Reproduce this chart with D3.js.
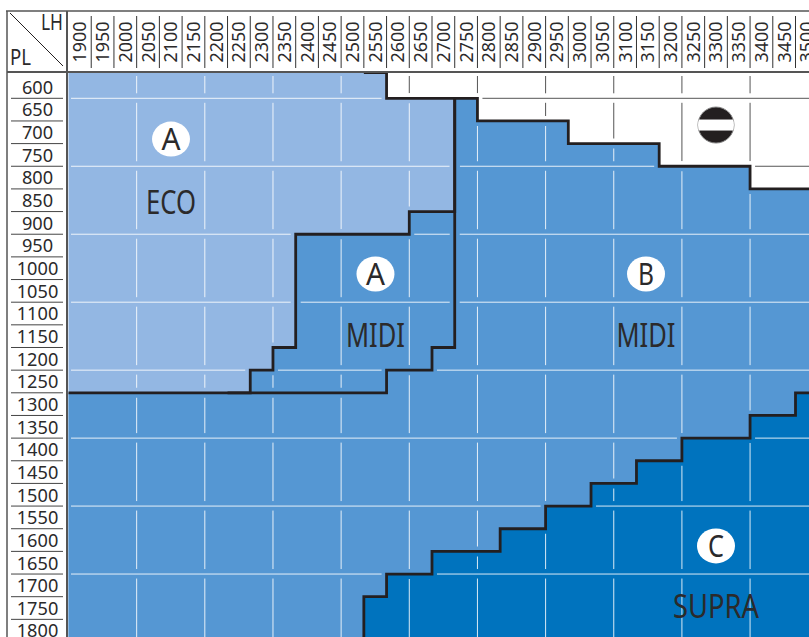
<!DOCTYPE html>
<html>
<head>
<meta charset="utf-8">
<script src="https://cdn.jsdelivr.net/npm/d3@7"></script>
<style>
  html, body { margin: 0; padding: 0; background: #fff; overflow: hidden; }
  svg { display: block; }
  text { fill: #2b2a2b; font-family: "Noto Sans", "Open Sans", sans-serif; }
</style>
</head>
<body>
<svg id="chart" width="809" height="637"></svg>
<script>
// LH across the top, PL down the side
const lhValues = [1900, 1950, 2000, 2050, 2100, 2150, 2200, 2250, 2300, 2350, 2400,
  2450, 2500, 2550, 2600, 2650, 2700, 2750, 2800, 2850, 2900, 2950, 3000, 3050,
  3100, 3150, 3200, 3250, 3300, 3350, 3400, 3450, 3500];
const plValues = [600, 650, 700, 750, 800, 850, 900, 950, 1000, 1050, 1100, 1150, 1200,
  1250, 1300, 1350, 1400, 1450, 1500, 1550, 1600, 1650, 1700, 1750, 1800];

// first PL row of each zone, one value per LH column
const availableFrom = [600, 600, 600, 600, 600, 600, 600, 600, 600, 600, 600,
  600, 600, 600, 650, 650, 650, 650, 700, 700, 700, 700, 750, 750,
  750, 750, 800, 800, 800, 800, 850, 850, 850];
const midiAFrom = [1300, 1300, 1300, 1300, 1300, 1300, 1300, 1300, 1250, 1200, 950,
  950, 950, 950, 950, 900, 900, 650, 700, 700, 700, 700, 750, 750,
  750, 750, 800, 800, 800, 800, 850, 850, 850];
const midiBFrom = [1300, 1300, 1300, 1300, 1300, 1300, 1300, 1300, 1300, 1300, 1300,
  1300, 1300, 1300, 1250, 1250, 1200, 650, 700, 700, 700, 700, 750, 750,
  750, 750, 800, 800, 800, 800, 850, 850, 850];
const supraFrom = [1850, 1850, 1850, 1850, 1850, 1850, 1850, 1850, 1850, 1850, 1850,
  1850, 1850, 1750, 1700, 1700, 1650, 1650, 1650, 1600, 1600, 1550, 1550, 1500,
  1500, 1450, 1450, 1400, 1400, 1400, 1350, 1350, 1300];

// grid lines every third row / column
const gridPL = [650, 800, 950, 1100, 1250, 1400, 1550, 1700];
const gridLH = [2050, 2200, 2350, 2500, 2650, 2800, 2950, 3100, 3250, 3400];

// zone badges and names
const badgeText = ["A", "A", "B", "C"];
const badgeLH = [2125.6, 2575.6, 3171, 3325];
const badgePL = [740, 1037.7, 1037.7, 1638];
const zoneText = ["ECO", "MIDI", "MIDI", "SUPRA"];
const zoneLH = [2125.6, 2575.6, 3171, 3325];
const zonePL = [881, 1174.5, 1174.5, 1772.5];
const zoneWidth = [50, 59, 59, 86];
const screwLH = 3325;
const screwPL = 709;

const colors = { eco: "#93b7e3", midi: "#5597d3", supra: "#0073be", line: "#231f20", frame: "#555" };

const svg = d3.select("#chart");

// x and y give the left / top edge of a column / row
const x = d3.scaleLinear().domain([1900, 3500]).range([68.5, 795.5]);
const yRow = d3.scaleLinear().domain([650, 1850]).range([98.3, 642]);
// first row is a little taller than the others
const y = d3.scaleLinear().domain([600, 650, 1850]).range([72.5, 98.3, 642]);
const colW = x(1950) - x(1900);
const rowH = yRow(700) - yRow(650);

const bottomPL = 1850;
const stepData = vals => vals.map((v, i) => ({ lh: lhValues[i], pl: v }))
  .concat([{ lh: 3550, pl: vals[vals.length - 1] }]);

const zoneArea = d3.area()
  .curve(d3.curveStepAfter)
  .x(d => x(d.lh))
  .y0(d => y(d.pl))
  .y1(y(bottomPL));
const stepLine = d3.line()
  .curve(d3.curveStepAfter)
  .x(d => x(d.lh))
  .y(d => y(d.pl));

const ecoLine = stepData(midiAFrom).slice(7, 18);
const midiLine = stepData(midiBFrom).slice(0, 18);
const freeLine = stepData(availableFrom).slice(13);
const supraLine = stepData(supraFrom).slice(12);
const allLines = [ecoLine, midiLine, freeLine, supraLine];

const defs = svg.append("defs");
defs.append("clipPath").attr("id", "zoneClip")
  .append("path").attr("d", zoneArea(stepData(availableFrom)));

// grid stops short of the black step lines
const gapMask = defs.append("mask").attr("id", "gapMask")
  .attr("maskUnits", "userSpaceOnUse")
  .attr("x", 0).attr("y", 0).attr("width", 809).attr("height", 637);
gapMask.append("rect").attr("width", 809).attr("height", 637).attr("fill", "#fff");
gapMask.selectAll("path").data(allLines).join("path")
  .attr("d", stepLine).attr("fill", "none").attr("stroke", "#000").attr("stroke-width", 10);

function drawGrid(parent, color) {
  const g = parent.append("g").attr("stroke", color).attr("fill", "none");
  g.selectAll("line.h").data(gridPL).join("line")
    .attr("class", "h")
    .attr("x1", 71).attr("x2", 809)
    .attr("y1", d => y(d)).attr("y2", d => y(d));
  const edges = [600 + 16].concat(gridPL);
  gridLH.forEach(lh => {
    g.selectAll(null).data(edges).join("line")
      .attr("x1", x(lh)).attr("x2", x(lh))
      .attr("y1", d => (d === edges[0] ? 76 : y(d) + 4.5))
      .attr("y2", (d, i) => (i === 0 ? y(650) - 5 : i === edges.length - 1 ? 637 : y(edges[i + 1]) - 5));
  });
  return g;
}

// dark grid on the white part
const darkGrid = svg.append("g").attr("mask", "url(#gapMask)");
drawGrid(darkGrid, "#555").attr("stroke-width", 1);

// zones, painted over each other
svg.append("path").attr("d", zoneArea(stepData(availableFrom))).attr("fill", colors.eco);
svg.append("path").attr("d", zoneArea(stepData(midiAFrom))).attr("fill", colors.midi);
svg.append("path").attr("d", zoneArea(stepData(supraFrom))).attr("fill", colors.supra);

// white grid only inside the zones
const whiteGrid = svg.append("g").attr("mask", "url(#gapMask)")
  .append("g").attr("clip-path", "url(#zoneClip)");
drawGrid(whiteGrid, "#fff").attr("stroke-width", 1).attr("stroke-opacity", 0.85);

svg.append("g").selectAll("path").data(allLines).join("path")
  .attr("d", stepLine)
  .attr("fill", "none")
  .attr("stroke", colors.line)
  .attr("stroke-width", 2.8);

// header and side column background + frame
const frame = svg.append("g").attr("stroke", colors.frame).attr("fill", "none");
frame.append("line").attr("x1", 6).attr("x2", 809).attr("y1", 11).attr("y2", 11).attr("stroke-width", 1.5);
frame.append("line").attr("x1", 7).attr("x2", 7).attr("y1", 11).attr("y2", 637).attr("stroke-width", 1.5);
frame.append("line").attr("x1", 7).attr("x2", 809).attr("y1", 72).attr("y2", 72).attr("stroke-width", 2);
frame.append("line").attr("x1", 67).attr("x2", 67).attr("y1", 11).attr("y2", 637).attr("stroke-width", 2);
svg.append("line").attr("x1", 10).attr("y1", 13).attr("x2", 63).attr("y2", 66)
  .attr("stroke", colors.line).attr("stroke-width", 1);

svg.append("text").attr("x", 41).attr("y", 30)
  .attr("font-size", 22).attr("textLength", 22).attr("lengthAdjust", "spacingAndGlyphs").text("LH");
svg.append("text").attr("x", 10).attr("y", 65)
  .attr("font-size", 22).attr("textLength", 21).attr("lengthAdjust", "spacingAndGlyphs").text("PL");

// column labels
svg.append("g").selectAll("line").data(lhValues.slice(1)).join("line")
  .attr("x1", d => x(d)).attr("x2", d => x(d))
  .attr("y1", 16).attr("y2", 68)
  .attr("stroke", "#333").attr("stroke-width", 1);
svg.append("g").selectAll("text").data(lhValues).join("text")
  .attr("transform", d => `translate(${x(d) + colW / 2 + 6.5},42) rotate(-90)`)
  .attr("text-anchor", "middle")
  .attr("font-size", 18.5)
  .attr("textLength", 41)
  .attr("lengthAdjust", "spacingAndGlyphs")
  .text(d => d);

// row labels
svg.append("g").selectAll("line").data(plValues.slice(1)).join("line")
  .attr("x1", 11).attr("x2", 63)
  .attr("y1", d => yRow(d)).attr("y2", d => yRow(d))
  .attr("stroke", "#444").attr("stroke-width", 1);
svg.append("g").selectAll("text").data(plValues).join("text")
  .attr("x", 37.5)
  .attr("y", d => yRow(d) + rowH / 2 + 6.8)
  .attr("text-anchor", "middle")
  .attr("font-size", 18.5)
  .attr("textLength", d => String(d).length * 10.4)
  .attr("lengthAdjust", "spacingAndGlyphs")
  .text(d => d);

// A / B / C badges
const badges = svg.append("g").selectAll("g").data(badgeText).join("g")
  .attr("transform", (d, i) => `translate(${x(badgeLH[i])},${yRow(badgePL[i])})`);
badges.append("ellipse").attr("rx", 19).attr("ry", 17.5).attr("fill", "#fff");
badges.append("text")
  .attr("y", 11)
  .attr("text-anchor", "middle")
  .attr("font-size", 31)
  .attr("textLength", (d) => (d === "A" ? 19 : 16))
  .attr("lengthAdjust", "spacingAndGlyphs")
  .text(d => d);

// zone names
svg.append("g").selectAll("text").data(zoneText).join("text")
  .attr("x", (d, i) => x(zoneLH[i]))
  .attr("y", (d, i) => yRow(zonePL[i]) + 11.5)
  .attr("text-anchor", "middle")
  .attr("font-size", 32)
  .attr("textLength", (d, i) => zoneWidth[i])
  .attr("lengthAdjust", "spacingAndGlyphs")
  .text(d => d);

// closed-screw symbol in the free corner
const sx = x(screwLH), sy = yRow(screwPL), sr = 18;
defs.append("clipPath").attr("id", "screwClip")
  .append("circle").attr("cx", sx).attr("cy", sy).attr("r", sr);
svg.append("circle").attr("cx", sx).attr("cy", sy).attr("r", sr)
  .attr("fill", colors.line).attr("stroke", "#888").attr("stroke-width", 1);
svg.append("rect").attr("x", sx - sr).attr("y", sy - 5.5).attr("width", sr * 2).attr("height", 11)
  .attr("fill", "#fff").attr("clip-path", "url(#screwClip)");
</script>
</body>
</html>
